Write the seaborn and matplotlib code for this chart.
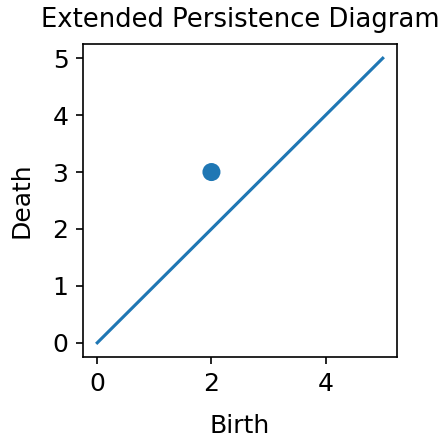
import matplotlib
matplotlib.use("Agg")
import matplotlib.pyplot as plt
import seaborn as sns
import pandas as pd

diag_x = [0, 5]
diag_y = [0, 5]
birth = [2]
death = [3]

DPI = 150
fig = plt.figure(figsize=(440 / DPI, 437 / DPI), dpi=DPI)
ax = fig.add_axes([83 / 440, 1 - 357 / 437, 314 / 440, 313 / 437])

sns.lineplot(x=diag_x, y=diag_y, ax=ax, color="#1f77b4", linewidth=1.5)
sns.scatterplot(x=birth, y=death, ax=ax, color="#1f77b4", s=75, edgecolor="none")

ax.set_xlim(-0.25, 5.25)
ax.set_ylim(-0.25, 5.25)
ax.set_xticks([0, 2, 4])
ax.set_yticks([0, 1, 2, 3, 4, 5])
ax.tick_params(labelsize=12)
ax.set_xlabel("Birth", fontsize=12, labelpad=9)
ax.set_ylabel("Death", fontsize=12, labelpad=9)
ax.set_title("Extended Persistence Diagram", fontsize=12.4, pad=8)

fig.savefig("out.png", dpi=DPI)
